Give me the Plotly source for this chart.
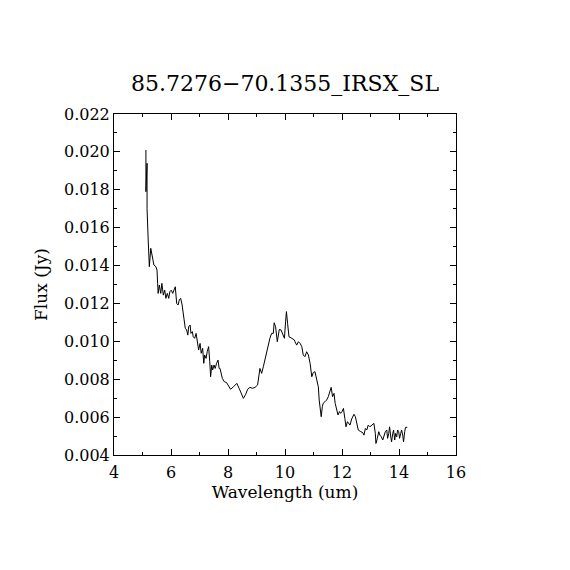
import plotly.graph_objects as go

# spectrum
wavelength = [
    5.12, 5.12, 5.16, 5.16, 5.20, 5.24, 5.29, 5.32, 5.36, 5.40, 5.47, 5.51, 5.53,
    5.55, 5.59, 5.64, 5.68, 5.73, 5.78, 5.82, 5.87, 5.92, 5.96, 6.01, 6.06, 6.11,
    6.15, 6.20, 6.25, 6.29, 6.34, 6.39, 6.43, 6.47, 6.50, 6.55, 6.59, 6.62, 6.67,
    6.70, 6.75, 6.78, 6.83, 6.88, 6.92, 6.97, 7.02, 7.06, 7.11, 7.15, 7.18, 7.23,
    7.27, 7.32, 7.36, 7.39, 7.43, 7.46, 7.51, 7.55, 7.60, 7.65, 7.69, 7.72, 7.80,
    7.87, 7.95, 8.04, 8.09, 8.19, 8.31, 8.39, 8.46, 8.54, 8.62, 8.69, 8.77, 8.85,
    8.95, 9.04, 9.12, 9.18, 9.24, 9.32, 9.39, 9.47, 9.53, 9.59, 9.62, 9.67, 9.73,
    9.80, 9.86, 9.92, 9.98, 10.02, 10.05, 10.09, 10.14, 10.24, 10.33, 10.35, 10.41,
    10.47, 10.53, 10.59, 10.64, 10.70, 10.76, 10.82, 10.88, 10.94, 10.99, 11.05,
    11.11, 11.17, 11.20, 11.24, 11.27, 11.31, 11.34, 11.40, 11.46, 11.52, 11.58,
    11.62, 11.67, 11.72, 11.76, 11.81, 11.86, 11.91, 11.95, 12.00, 12.05, 12.10,
    12.14, 12.19, 12.24, 12.28, 12.34, 12.42, 12.47, 12.52, 12.57, 12.66, 12.73,
    12.77, 12.82, 12.87, 12.92, 12.98, 13.05, 13.12, 13.17, 13.19, 13.24, 13.29,
    13.33, 13.38, 13.43, 13.47, 13.52, 13.57, 13.60, 13.64, 13.67, 13.71, 13.74,
    13.78, 13.81, 13.85, 13.88, 13.92, 13.95, 13.99, 14.02, 14.06, 14.09, 14.13,
    14.16, 14.20, 14.23, 14.29,
]
flux = [
    0.02010, 0.01790, 0.01940, 0.01700, 0.01535, 0.01394, 0.01491, 0.01465, 0.01420,
    0.01403, 0.01394, 0.01376, 0.01306, 0.01253, 0.01297, 0.01253, 0.01306, 0.01244,
    0.01270, 0.01227, 0.01253, 0.01227, 0.01262, 0.01270, 0.01253, 0.01280, 0.01288,
    0.01200, 0.01192, 0.01218, 0.01227, 0.01192, 0.01148, 0.01112, 0.01069, 0.01060,
    0.01033, 0.01077, 0.01086, 0.01042, 0.01051, 0.01024, 0.01016, 0.01042, 0.01007,
    0.00954, 0.00989, 0.00937, 0.00963, 0.00884, 0.00928, 0.00910, 0.00945, 0.00972,
    0.00893, 0.00813, 0.00875, 0.00849, 0.00875, 0.00857, 0.00884, 0.00901, 0.00857,
    0.00857, 0.00805, 0.00787, 0.00782, 0.00760, 0.00747, 0.00760, 0.00778, 0.00752,
    0.00722, 0.00699, 0.00720, 0.00747, 0.00757, 0.00752, 0.00757, 0.00770, 0.00857,
    0.00831, 0.00866, 0.00919, 0.00972, 0.01016, 0.01042, 0.01042, 0.01098, 0.01077,
    0.00998, 0.01063, 0.01060, 0.01042, 0.01016, 0.01103, 0.01157, 0.01095, 0.01024,
    0.01016, 0.01007, 0.00998, 0.00980, 0.00998, 0.00989, 0.00972, 0.00928, 0.00919,
    0.00945, 0.00928, 0.00884, 0.00813, 0.00835, 0.00840, 0.00805, 0.00760, 0.00690,
    0.00637, 0.00602, 0.00655, 0.00673, 0.00681, 0.00690, 0.00708, 0.00734, 0.00757,
    0.00708, 0.00725, 0.00673, 0.00646, 0.00611, 0.00629, 0.00620, 0.00629, 0.00646,
    0.00593, 0.00549, 0.00576, 0.00567, 0.00558, 0.00590, 0.00615, 0.00602, 0.00567,
    0.00532, 0.00523, 0.00518, 0.00505, 0.00540, 0.00532, 0.00558, 0.00549, 0.00558,
    0.00567, 0.00514, 0.00461, 0.00488, 0.00523, 0.00505, 0.00496, 0.00479, 0.00505,
    0.00523, 0.00532, 0.00488, 0.00514, 0.00549, 0.00496, 0.00470, 0.00514, 0.00532,
    0.00479, 0.00514, 0.00496, 0.00532, 0.00523, 0.00488, 0.00514, 0.00532, 0.00505,
    0.00470, 0.00523, 0.00546, 0.00546,
]

title = "85.7276\u221270.1355_IRSX_SL"
x_ticks = [4, 6, 8, 10, 12, 14, 16]
y_ticks = [0.004, 0.006, 0.008, 0.010, 0.012, 0.014, 0.016, 0.018, 0.020, 0.022]

# a serif face is the nearest thing to the PGPLOT roman lettering
font = "DejaVu Serif"

fig = go.Figure()
fig.add_trace(go.Scatter(x=wavelength, y=flux, mode="lines",
                         line=dict(color="black", width=1), showlegend=False))

axis_common = dict(showline=True, linecolor="black", linewidth=1, mirror="ticks",
                   ticks="inside", ticklen=6, tickcolor="black", tickwidth=1,
                   showgrid=False, zeroline=False,
                   tickfont=dict(family=font, size=16, color="black"))

fig.update_xaxes(range=[4, 16], tickvals=x_ticks, ticklabelstandoff=3,
                 minor=dict(dtick=1, ticklen=3, ticks="inside", tickcolor="black"),
                 title=dict(text="Wavelength (um)", standoff=4,
                            font=dict(family=font, size=17, color="black")),
                 **axis_common)
fig.update_yaxes(range=[0.004, 0.022], tickvals=y_ticks, tickformat=".3f",
                 minor=dict(dtick=0.001, ticklen=3, ticks="inside", tickcolor="black"),
                 title=dict(text="Flux (Jy)", standoff=12,
                            font=dict(family=font, size=17, color="black")),
                 **axis_common)

# page body has an 8px margin, so the figure is shrunk by that much
fig.update_layout(
    width=562, height=562,
    margin=dict(l=106, r=114, t=106, b=115),
    paper_bgcolor="white", plot_bgcolor="white",
    title=dict(text=title, x=(285 - 8) / 562, xanchor="center", y=1 - 75 / 562,
               yanchor="middle", yref="container",
               font=dict(family=font, size=22, color="black")),
)

fig.write_html("out.html")
